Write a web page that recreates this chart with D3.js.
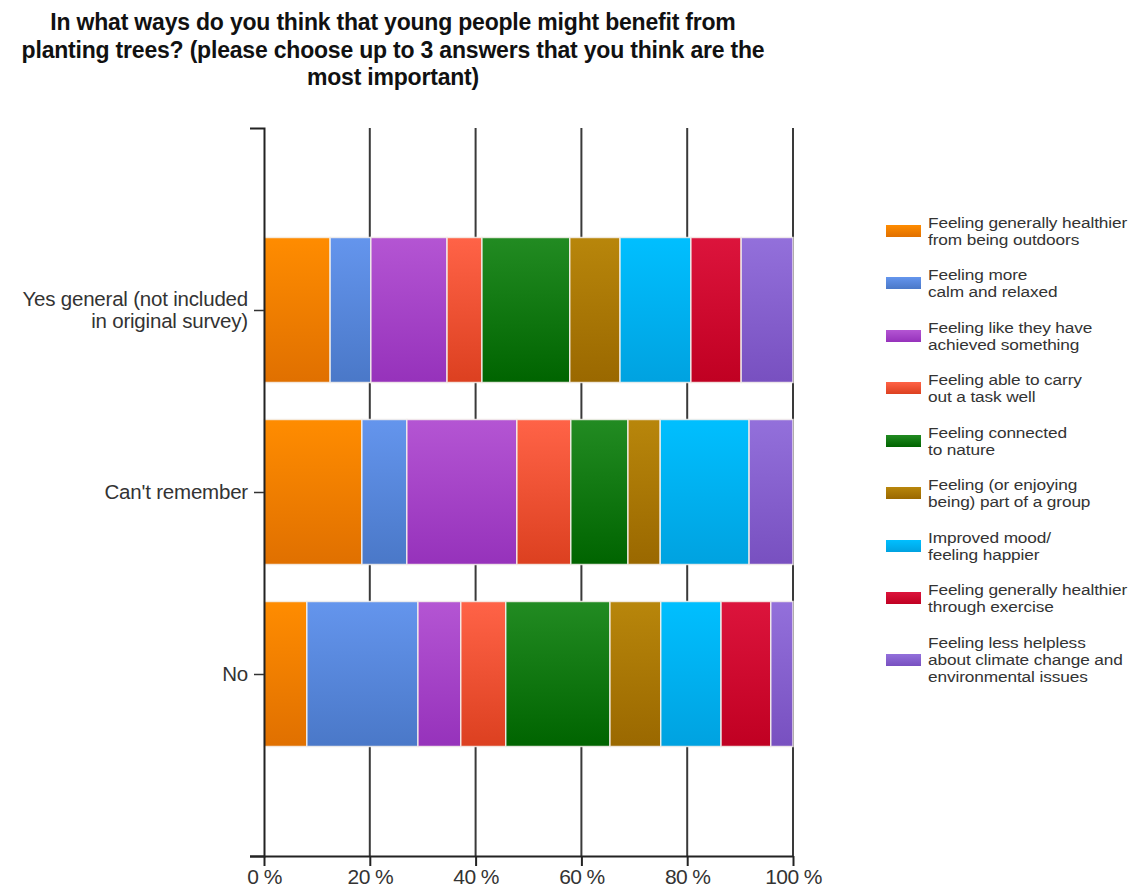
<!DOCTYPE html>
<html>
<head>
<meta charset="utf-8">
<script src="https://cdn.jsdelivr.net/npm/d3@7"></script>
<style>
  html, body { margin: 0; padding: 0; background: #fff; }
  svg { display: block; }
  text { font-family: "Liberation Sans", Arial, sans-serif; }
</style>
</head>
<body>
<svg id="chart" width="1144" height="892"></svg>
<script>
// Survey groups, drawn top to bottom
const groups = ["Yes general (not included in original survey)", "Can't remember", "No"];
const groupLabelLines = [["Yes general (not included", "in original survey)"], ["Can't remember"], ["No"]];

// Answer options (stack order, left to right)
const answers = [
  "Feeling generally healthier from being outdoors",
  "Feeling more calm and relaxed",
  "Feeling like they have achieved something",
  "Feeling able to carry out a task well",
  "Feeling connected to nature",
  "Feeling (or enjoying being) part of a group",
  "Improved mood/ feeling happier",
  "Feeling generally healthier through exercise",
  "Feeling less helpless about climate change and environmental issues"
];
const answerLegendLines = [
  ["Feeling generally healthier", "from being outdoors"],
  ["Feeling more", "calm and relaxed"],
  ["Feeling like they have", "achieved something"],
  ["Feeling able to carry", "out a task well"],
  ["Feeling connected", "to nature"],
  ["Feeling (or enjoying", "being) part of a group"],
  ["Improved mood/", "feeling happier"],
  ["Feeling generally healthier", "through exercise"],
  ["Feeling less helpless", "about climate change and", "environmental issues"]
];

// Share of answers (%) per group, one value per answer option
const yesGeneral   = [12.5, 7.7, 14.4, 6.6, 16.6, 9.5, 13.4, 9.5, 9.8];
const cantRemember = [18.5, 8.5, 20.8, 10.2, 10.8, 6.1, 16.8, 0.0, 8.3];
const noGroup      = [8.1, 21.0, 8.1, 8.5, 19.7, 9.6, 11.4, 9.4, 4.2];

const xTicks = [0, 20, 40, 60, 80, 100];

// Top / bottom shade of each answer colour
const colorTop    = ["#ff8c00", "#6495ed", "#b455d3", "#ff6347", "#228b22", "#b8860b", "#00bfff", "#dc143c", "#9370db"];
const colorBottom = ["#e07000", "#4a78c8", "#9632bb", "#dc4020", "#006400", "#9a6800", "#00a2e0", "#c00022", "#7850c0"];

const seriesByGroup = [yesGeneral, cantRemember, noGroup];

const svg = d3.select("#chart");

// Title
const titleLines = [
  "In what ways do you think that young people might benefit from",
  "planting trees? (please choose up to 3 answers that you think are the",
  "most important)"
];
svg.append("text")
  .attr("x", 393).attr("y", 30)
  .attr("text-anchor", "middle")
  .attr("font-size", 23).attr("font-weight", "bold").attr("fill", "#111")
  .attr("letter-spacing", -0.2)
  .selectAll("tspan").data(titleLines).join("tspan")
  .attr("x", 393).attr("dy", (d, i) => i === 0 ? 0 : 27.5)
  .text(d => d);

// Gradients
const defs = svg.append("defs");
answers.forEach((a, i) => {
  const g = defs.append("linearGradient").attr("id", "grad" + i)
    .attr("x1", 0).attr("y1", 0).attr("x2", 0).attr("y2", 1);
  g.append("stop").attr("offset", "0%").attr("stop-color", colorTop[i]);
  g.append("stop").attr("offset", "100%").attr("stop-color", colorBottom[i]);
});

const plot = { left: 264, right: 793, top: 128, bottom: 856 };

const x = d3.scaleLinear().domain([0, 100]).range([plot.left, plot.right]);
const y = d3.scalePoint().domain(groups).range([plot.top, plot.bottom]).padding(1);
const barH = 145;

// Stack the data
const table = groups.map((g, gi) => {
  const row = { group: g };
  answers.forEach((a, ai) => row[a] = seriesByGroup[gi][ai]);
  return row;
});
const stacked = d3.stack().keys(answers)(table);

// Vertical gridlines
svg.append("g")
  .selectAll("line").data(xTicks.filter(t => t > 0)).join("line")
  .attr("x1", d => x(d)).attr("x2", d => x(d))
  .attr("y1", plot.top).attr("y2", plot.bottom)
  .attr("stroke", "#3a3a3a").attr("stroke-width", 2);

// Bars
svg.append("g").selectAll("g").data(stacked).join("g")
  .attr("fill", (d, i) => `url(#grad${i})`)
  .selectAll("rect").data(d => d.filter(p => p[1] - p[0] > 0)).join("rect")
  .attr("x", d => x(d[0]))
  .attr("width", d => x(d[1]) - x(d[0]))
  .attr("y", d => y(d.data.group) - barH / 2)
  .attr("height", barH)
  .attr("stroke", "rgba(245,240,235,0.85)")
  .attr("stroke-width", 1.5);

// X axis
const xAxis = d3.axisBottom(x).tickValues(xTicks)
  .tickFormat(d => d + " %").tickSize(10).tickSizeOuter(0);
const gx = svg.append("g").attr("transform", `translate(0,${plot.bottom})`).call(xAxis);
gx.select(".domain").attr("d", `M${plot.left - 14},0.5H${plot.right}`)
  .attr("stroke", "#222").attr("stroke-width", 2);
gx.selectAll(".tick line").attr("stroke", "#222").attr("stroke-width", 2);
gx.selectAll(".tick text").attr("font-size", 21).attr("fill", "#333").attr("dy", "0.72em")
  .attr("font-family", "Liberation Sans, Arial, sans-serif").attr("letter-spacing", -0.6);

// Y axis
const yAxis = d3.axisLeft(y).tickSize(10).tickSizeOuter(14).tickFormat("");
const gy = svg.append("g").attr("transform", `translate(${plot.left},0)`).call(yAxis);
gy.select(".domain").attr("stroke", "#222").attr("stroke-width", 2);
gy.selectAll(".tick line").attr("stroke", "#333").attr("stroke-width", 1.5);

// Group labels
svg.append("g").selectAll("text").data(groups).join("text")
  .attr("text-anchor", "end")
  .attr("font-size", 20.5).attr("fill", "#333")
  .attr("letter-spacing", -0.2)
  .each(function(g, gi) {
    const lines = groupLabelLines[gi];
    const yc = y(g);
    const lh = 22;
    const y0 = yc - (lines.length - 1) * lh / 2 + 7;
    d3.select(this).selectAll("tspan").data(lines).join("tspan")
      .attr("x", 248).attr("y", (d, i) => y0 + i * lh).text(d => d);
  });

// Legend
const legendY = [231, 283, 336, 388, 441, 493, 546, 598, 660];
const legend = svg.append("g");
answers.forEach((a, i) => {
  const item = legend.append("g");
  item.append("rect")
    .attr("x", 886).attr("y", legendY[i] - 6)
    .attr("width", 35).attr("height", 12)
    .attr("fill", `url(#grad${i})`);
  const lines = answerLegendLines[i];
  const lh = 17;
  const y0 = legendY[i] - (lines.length - 1) * lh / 2 + 5.5;
  item.append("text")
    .attr("transform", "translate(928,0) scale(1.15,1)")
    .attr("font-size", 15).attr("fill", "#333").attr("letter-spacing", -0.1)
    .selectAll("tspan").data(lines).join("tspan")
    .attr("x", 0).attr("y", (d, k) => y0 + k * lh).text(d => d);
});
</script>
</body>
</html>
